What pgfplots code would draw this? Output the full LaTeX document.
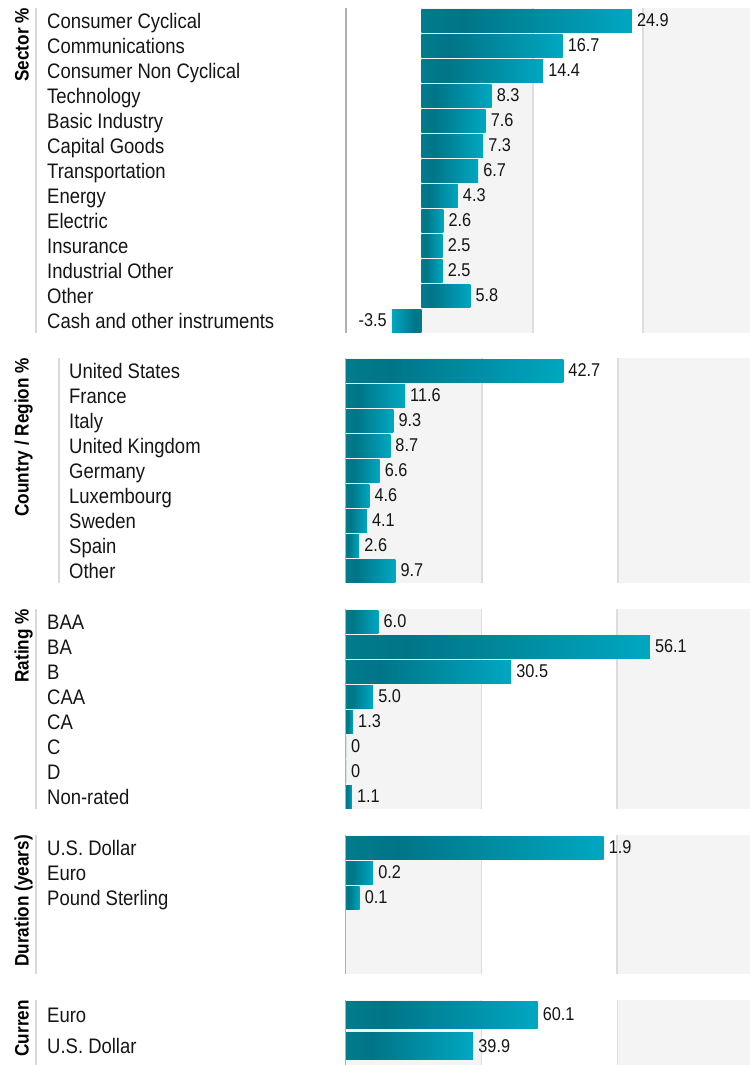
\documentclass[border=0pt]{standalone}
\usepackage{fontspec}
\setmainfont{Liberation Sans}[FakeStretch=0.88]
\usepackage{pgfplots}
\pgfplotsset{compat=1.18}
\definecolor{bandgray}{HTML}{F4F4F4}
\definecolor{gridgray}{HTML}{DDDDDD}
\definecolor{axisgray}{HTML}{B0B0B0}
\definecolor{sepgray}{HTML}{D9D9D9}
\definecolor{tealA}{HTML}{007C8C}
\definecolor{tealB}{HTML}{007587}
\definecolor{tealC}{HTML}{00A7C1}
\definecolor{txt}{HTML}{151515}
\pgfdeclarehorizontalshading{barshade}{100bp}{color(0bp)=(tealA); color(25bp)=(tealA); color(35bp)=(tealB); color(75bp)=(tealC); color(100bp)=(tealC)}
\pgfdeclarehorizontalshading{barshadeneg}{100bp}{color(0bp)=(tealC); color(25bp)=(tealC); color(65bp)=(tealB); color(75bp)=(tealA); color(100bp)=(tealA)}
\newcommand{\catfont}{\fontsize{21bp}{25bp}\selectfont}
\newcommand{\valfont}{\fontsize{18.5bp}{22bp}\selectfont}
\newcommand{\ttlfont}{\fontsize{19.5bp}{23bp}\selectfont\bfseries}
\tikzset{gl/.style={draw=gridgray, line width=1.5bp}}
\pgfplotsset{
  panel/.style={
    scale only axis, width=404bp, clip=false,
    xbar, bar shift=0pt,
    y dir=reverse,
    axis y line*=left, axis x line*=bottom,
    x axis line style={draw=none},
    y axis line style={draw=axisgray, line width=2bp},
    xtick=\empty, xticklabels={}, major tick length=0pt, tick style={draw=none},
    yticklabel style={font=\catfont, text=txt, anchor=base west, inner sep=0pt, xshift=-299bp, yshift=-7.5bp},
    nodes near coords, point meta=explicit symbolic,
    every node near coord/.append style={font=\valfont, text=txt, inner sep=5bp, anchor=west},
  },
  bars/.style={draw=none, shading=barshade, bar width=23bp, bar shift=0pt},
}
% one bar per \addplot, so that each bar gets its own gradient
\newcommand{\hb}[3][]{\addplot[bars,#1] coordinates {(#2,#3) [#2]};}
\begin{document}
\begin{tikzpicture}
\useasboundingbox (0,0) rectangle (750bp,-1065bp);

% ---------- Sector ----------
\begin{axis}[panel, at={(346bp,-8bp)}, anchor=north west, height=325bp,
  xmin=-8.93, xmax=38.88, ymin=-0.5, ymax=12.5,
  ytick={0,...,12},
  yticklabels={Consumer Cyclical,Communications,Consumer Non Cyclical,Technology,Basic Industry,Capital Goods,Transportation,Energy,Electric,Insurance,Industrial Other,Other,Cash and other instruments}]
\fill[bandgray] (axis cs:0,-0.5) rectangle (axis cs:13.2,12.5);
\fill[bandgray] (axis cs:26.2,-0.5) rectangle (axis cs:38.88,12.5);
\draw[gl] (axis cs:0,-0.5) -- (axis cs:0,12.5);
\draw[gl] (axis cs:13.2,-0.5) -- (axis cs:13.2,12.5);
\draw[gl] (axis cs:26.2,-0.5) -- (axis cs:26.2,12.5);
\hb{24.9}{0} \hb{16.7}{1} \hb{14.4}{2} \hb{8.3}{3} \hb{7.6}{4} \hb{7.3}{5}
\hb{6.7}{6} \hb{4.3}{7} \hb{2.6}{8} \hb{2.5}{9} \hb{2.5}{10} \hb{5.8}{11}
\addplot[bars, shading=barshadeneg, every node near coord/.style={font=\valfont, text=txt, inner sep=5bp, anchor=east}] coordinates {(-3.5,12) [-3.5]};
\end{axis}

% ---------- Country ----------
\begin{axis}[panel, at={(346bp,-358bp)}, anchor=north west, height=225bp,
  xmin=0, xmax=79.4, ymin=-0.5, ymax=8.5,
  ytick={0,...,8},
  yticklabel style={xshift=22bp},
  yticklabels={United States,France,Italy,United Kingdom,Germany,Luxembourg,Sweden,Spain,Other}]
\fill[bandgray] (axis cs:0,-0.5) rectangle (axis cs:26.7,8.5);
\fill[bandgray] (axis cs:53.5,-0.5) rectangle (axis cs:79.4,8.5);
\draw[gl] (axis cs:26.7,-0.5) -- (axis cs:26.7,8.5);
\draw[gl] (axis cs:53.5,-0.5) -- (axis cs:53.5,8.5);
\hb{42.7}{0} \hb{11.6}{1} \hb{9.3}{2} \hb{8.7}{3} \hb{6.6}{4}
\hb{4.6}{5} \hb{4.1}{6} \hb{2.6}{7} \hb{9.7}{8}
\end{axis}

% ---------- Rating ----------
\begin{axis}[panel, at={(346bp,-609bp)}, anchor=north west, height=200bp,
  xmin=0, xmax=74.6, ymin=-0.5, ymax=7.5,
  ytick={0,...,7},
  yticklabels={BAA,BA,B,CAA,CA,C,D,Non-rated}]
\fill[bandgray] (axis cs:0,-0.5) rectangle (axis cs:25,7.5);
\fill[bandgray] (axis cs:50,-0.5) rectangle (axis cs:74.6,7.5);
\draw[gl] (axis cs:25,-0.5) -- (axis cs:25,7.5);
\draw[gl] (axis cs:50,-0.5) -- (axis cs:50,7.5);
\hb{6.0}{0} \hb{56.1}{1} \hb{30.5}{2} \hb{5.0}{3} \hb{1.3}{4} \hb{1.1}{7}
\addplot[draw=none, fill=tealA, bar width=23bp, bar shift=0pt] coordinates {(0,5) [0] (0,6) [0]};
\end{axis}

% ---------- Duration ----------
\begin{axis}[panel, at={(346bp,-835bp)}, anchor=north west, height=139bp,
  xmin=0, xmax=2.98, ymin=-0.5, ymax=5.06,
  ytick={0,1,2},
  yticklabels={U.S. Dollar,Euro,Pound Sterling}]
\fill[bandgray] (axis cs:0,-0.5) rectangle (axis cs:1,5.06);
\fill[bandgray] (axis cs:2,-0.5) rectangle (axis cs:2.98,5.06);
\draw[gl] (axis cs:1,-0.5) -- (axis cs:1,5.06);
\draw[gl] (axis cs:2,-0.5) -- (axis cs:2,5.06);
\hb{1.9}{0} \hb{0.2}{1} \hb{0.1}{2}
\end{axis}

% ---------- Currency ----------
\begin{axis}[panel, at={(346bp,-1000bp)}, anchor=north west, height=65bp,
  xmin=0, xmax=126.7, ymin=-0.46, ymax=1.6,
  ytick={0,1},
  yticklabels={Euro,U.S. Dollar}]
\fill[bandgray] (axis cs:0,-0.46) rectangle (axis cs:42.5,1.6);
\fill[bandgray] (axis cs:85.2,-0.46) rectangle (axis cs:126.7,1.6);
\draw[gl] (axis cs:42.5,-0.46) -- (axis cs:42.5,1.6);
\draw[gl] (axis cs:85.2,-0.46) -- (axis cs:85.2,1.6);
\hb[bar width=27bp]{60.1}{0} \hb[bar width=27bp]{39.9}{1}
\end{axis}

% ---------- titles and separators ----------
\draw[sepgray, line width=1.5bp] (36bp,-8bp) -- (36bp,-333bp);
\draw[sepgray, line width=1.5bp] (59bp,-358bp) -- (59bp,-583bp);
\draw[sepgray, line width=1.5bp] (36bp,-609bp) -- (36bp,-809bp);
\draw[sepgray, line width=1.5bp] (36bp,-835bp) -- (36bp,-974bp);
\draw[sepgray, line width=1.5bp] (36bp,-1000bp) -- (36bp,-1065bp);
\node[rotate=90, anchor=base east, font=\ttlfont, inner sep=0pt] at (28.5bp,-8bp) {Sector \%};
\node[rotate=90, anchor=base east, font=\ttlfont, inner sep=0pt] at (28.5bp,-358bp) {Country / Region \%};
\node[rotate=90, anchor=base east, font=\ttlfont, inner sep=0pt] at (28.5bp,-609bp) {Rating \%};
\node[rotate=90, anchor=base east, font=\ttlfont, inner sep=0pt] at (28.5bp,-835bp) {Duration (years)};
\node[rotate=90, anchor=base east, font=\ttlfont, inner sep=0pt] at (28.5bp,-1000bp) {Curren};
\end{tikzpicture}
\end{document}
